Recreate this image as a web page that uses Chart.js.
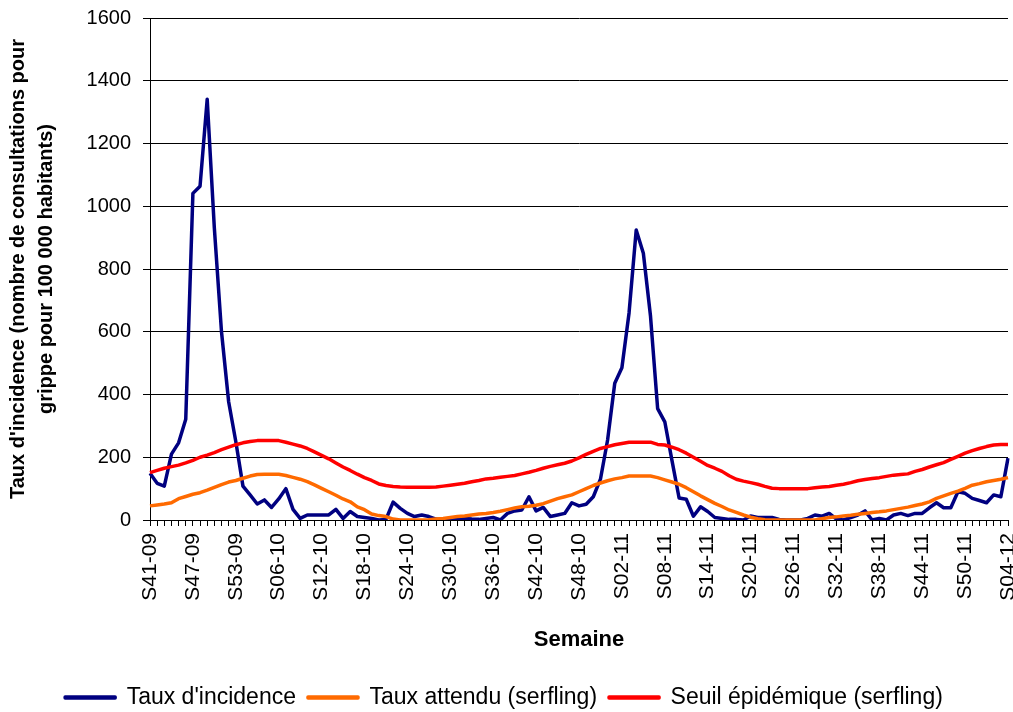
<!DOCTYPE html>
<html>
<head>
<meta charset="utf-8">
<script src="https://cdn.jsdelivr.net/npm/chart.js@4"></script>
<style>
  html, body { margin: 0; padding: 0; background: #fff; }
  #wrap { width: 1013px; height: 712px; }
</style>
</head>
<body>
<div id="wrap"><canvas id="chart"></canvas></div>
<script>
// semaines : [année, première semaine, dernière semaine]
var seasons = [[9, 41, 53], [10, 1, 52], [11, 1, 52], [12, 1, 4]];
var weeks = [];
seasons.forEach(function (s) {
  for (var w = s[1]; w <= s[2]; w++) {
    weeks.push("S" + String(w).padStart(2, "0") + "-" + String(s[0]).padStart(2, "0"));
  }
});

var yTicks = [0, 200, 400, 600, 800, 1000, 1200, 1400, 1600];

var incidence = [149,117,108,210,246,321,1041,1064,1341,930,
  600,377,250,108,80,51,64,40,67,100,
  34,5,16,16,16,16,34,5,27,11,
  8,5,0,2,57,37,21,11,16,11,
  3,0,2,3,5,3,2,5,8,0,
  21,29,32,74,29,40,11,16,21,55,
  45,50,74,130,255,436,485,660,924,850,
  650,355,313,190,70,66,12,42,27,8,
  5,2,2,0,13,8,8,8,2,0,
  0,0,5,16,12,21,3,0,8,16,
  29,0,5,0,16,21,14,21,21,39,
  55,39,39,90,85,69,62,55,80,74,
  197];

var attendu = [45,48,51,55,68,75,82,87,95,104,
  113,121,126,133,140,145,146,146,146,142,
  136,130,122,112,101,90,79,67,58,42,
  33,19,14,11,3,0,0,0,0,1,
  3,5,8,11,13,16,19,21,24,28,
  33,38,42,44,47,52,60,68,74,80,
  90,100,110,118,125,131,135,140,140,140,
  140,135,128,121,114,103,90,77,65,53,
  43,32,24,16,9,4,1,0,0,0,
  0,0,0,0,4,8,10,13,15,18,
  21,24,26,29,33,37,41,46,51,58,
  69,77,85,92,101,111,116,122,126,130,
  135];

var seuil = [151,158,165,170,175,182,190,200,207,215,
  224,232,240,246,250,253,253,253,253,248,
  242,236,228,217,206,195,182,169,158,146,
  135,126,115,110,107,105,104,104,104,104,
  105,108,111,114,117,122,126,131,133,136,
  139,142,147,152,158,165,171,176,181,188,
  198,209,219,228,234,240,244,248,248,248,
  248,241,239,232,224,213,200,187,174,165,
  155,141,130,124,119,114,107,101,100,100,
  100,100,100,103,105,107,111,114,119,125,
  129,132,135,139,143,145,147,155,161,169,
  176,183,193,203,213,221,228,234,239,241,
  241];

var FONT = "'Liberation Sans', Arial, sans-serif";

var chart = new Chart(document.getElementById("chart"), {
  type: "line",
  data: {
    labels: weeks,
    datasets: [
      { label: "Taux d'incidence", data: incidence, borderColor: "#000080", backgroundColor: "#000080", order: 2 },
      { label: "Taux attendu (serfling)", data: attendu, borderColor: "#ff6a00", backgroundColor: "#ff6a00", order: 1 },
      { label: "Seuil épidémique (serfling)", data: seuil, borderColor: "#ff0000", backgroundColor: "#ff0000", order: 0 }
    ]
  },
  options: {
    responsive: true,
    maintainAspectRatio: false,
    animation: false,
    layout: { padding: { top: 18, right: 5, bottom: 0, left: 0 } },
    elements: {
      line: { borderWidth: 3.5, tension: 0, borderJoinStyle: "round" },
      point: { radius: 0 }
    },
    plugins: {
      tooltip: { enabled: false },
      legend: {
        position: "bottom",
        labels: {
          color: "#000",
          font: { family: FONT, size: 23 },
          boxWidth: 50,
          boxHeight: 1,
          padding: 12,
          sort: function (a, b) { return a.datasetIndex - b.datasetIndex; }
        }
      }
    },
    scales: {
      x: {
        ticks: {
          autoSkip: false,
          maxRotation: 90,
          minRotation: 90,
          padding: 7,
          color: "#000",
          font: { family: FONT, size: 21 },
          callback: function (v, i) { return i % 6 === 0 ? weeks[i] : ""; }
        },
        grid: { drawOnChartArea: false, drawTicks: true, tickLength: 6, color: "#000" },
        border: { color: "#000" },
        title: {
          display: true,
          text: "Semaine",
          color: "#000",
          font: { family: FONT, size: 22, weight: "bold" },
          padding: { top: 0, bottom: 21 }
        },
        afterFit: function (s) { s.height = 712 - 38 - 520; s.paddingRight = 3; s.paddingLeft = 0; }
      },
      y: {
        min: 0,
        max: 1600,
        afterBuildTicks: function (s) { s.ticks = yTicks.map(function (v) { return { value: v }; }); },
        ticks: {
          color: "#000",
          padding: 12,
          font: { family: FONT, size: 20 },
          callback: function (v) { return String(v); }
        },
        grid: { color: "#000", tickLength: 7 },
        border: { color: "#000" },
        title: {
          display: true,
          text: ["Taux d'incidence (nombre de consultations pour", "grippe pour 100 000 habitants)"],
          color: "#000",
          font: { family: FONT, size: 20, weight: "bold", lineHeight: 1.4 },
          padding: { top: 4, bottom: 0 }
        },
        afterFit: function (s) { s.width = 150; s.paddingTop = 0; s.paddingBottom = 0; }
      }
    }
  }
});

// hauteur fixe de la légende
var origFit = chart.legend.fit;
chart.legend.fit = function () { origFit.call(this); this.height = 38; };
chart.update();
</script>
</body>
</html>
